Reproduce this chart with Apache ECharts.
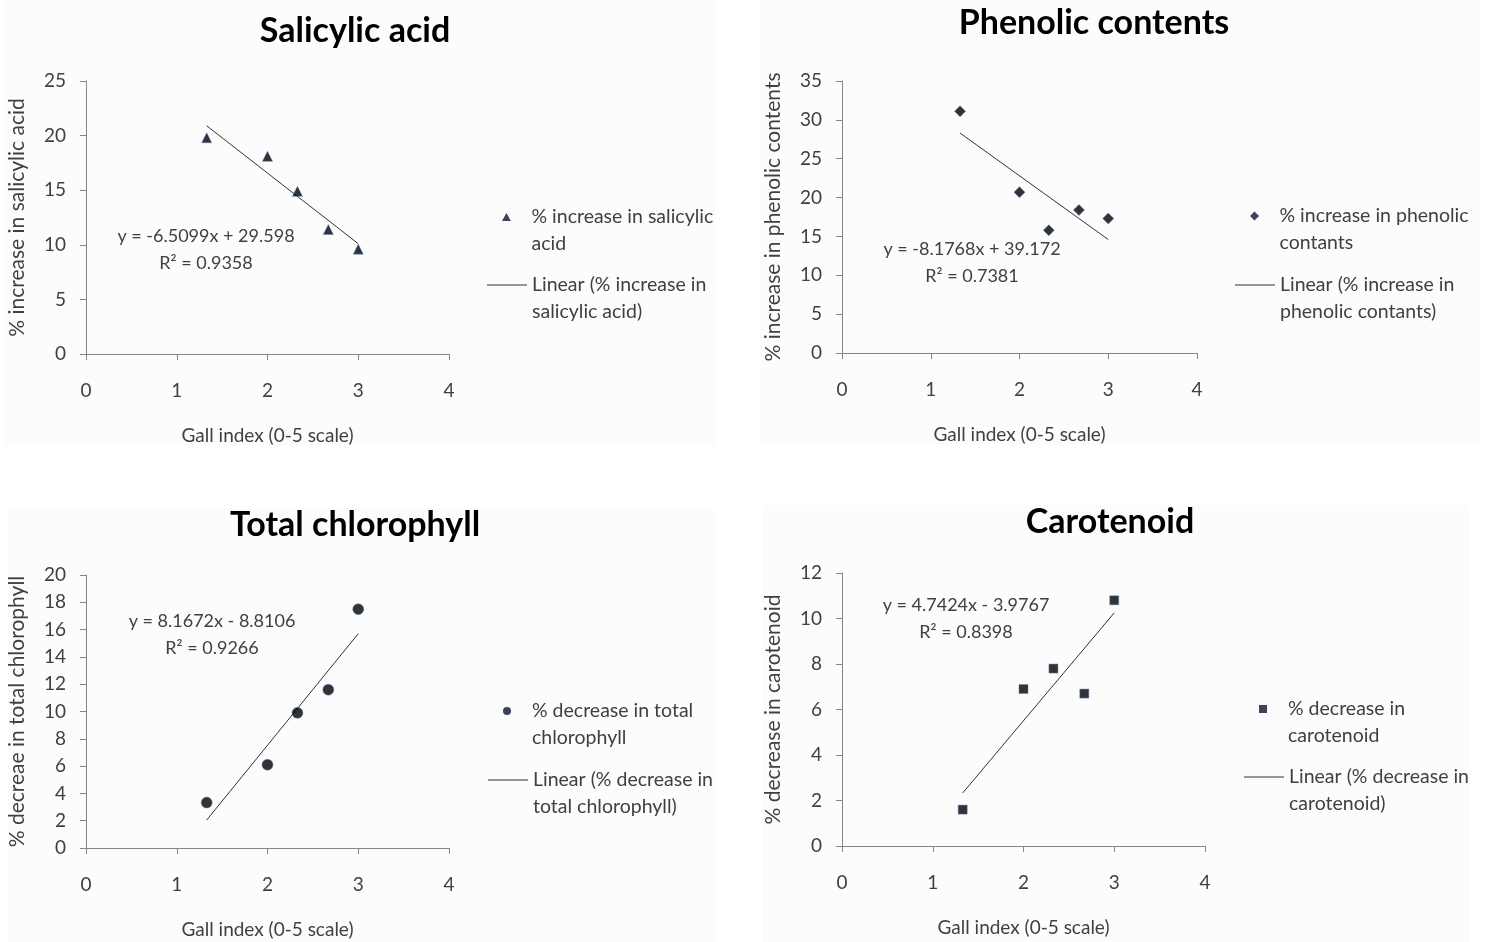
<!DOCTYPE html>
<html><head><meta charset="utf-8">
<script src="https://cdn.jsdelivr.net/npm/echarts@6/dist/echarts.min.js"></script>
<style>html,body{margin:0;padding:0;background:#fff}#c{width:1485px;height:942px}</style>
</head><body><div id="c"></div>
<script>
// ---- data ----
const gallIndex = [1.33, 2, 2.33, 2.67, 3];
const salicylic = [19.8, 18.1, 14.9, 11.4, 9.6];
const phenolic = [31.1, 20.7, 15.8, 18.4, 17.3];
const chlorophyll = [3.33, 6.1, 9.9, 11.6, 17.5];
const carotenoid = [1.6, 6.9, 7.8, 6.7, 10.8];
const trendX = [1.33, 3];
const trendSalicylic = [20.9, 10.1];
const trendPhenolic = [28.3, 14.6];
const trendChlorophyll = [2.05, 15.7];
const trendCarotenoid = [2.33, 10.25];
const titles = ['Salicylic acid', 'Phenolic contents', 'Total chlorophyll', 'Carotenoid'];
const yNames = ['% increase in salicylic acid', '% increase in phenolic contents', '% decreae in total chlorophyll', '% decrease in carotenoid'];
const xName = 'Gall index (0-5 scale)';
const equations = ['y = -6.5099x + 29.598', 'y = -8.1768x + 39.172', 'y = 8.1672x - 8.8106', 'y = 4.7424x - 3.9767'];
const rSquared = ['R\u00B2 = 0.9358', 'R\u00B2 = 0.7381', 'R\u00B2 = 0.9266', 'R\u00B2 = 0.8398'];
const scatterNames = ['% increase in salicylic acid', '% increase in phenolic contants', '% decrease in total chlorophyll', '% decrease in carotenoid'];
const scatterLabels = ['% increase in salicylic\nacid', '% increase in phenolic\ncontants', '% decrease in total\nchlorophyll', '% decrease in\ncarotenoid'];
const trendNames = ['Linear (% increase in salicylic acid)', 'Linear (% increase in phenolic contants)', 'Linear (% decrease in total chlorophyll)', 'Linear (% decrease in carotenoid)'];
const trendLabels = ['Linear (% increase in\nsalicylic acid)', 'Linear (% increase in\nphenolic contants)', 'Linear (% decrease in\ntotal chlorophyll)', 'Linear (% decrease in\ncarotenoid)'];
const yMax = [25, 35, 20, 12];
const yStep = [5, 5, 2, 2];
const xMin = 0, xMax = 4, xStep = 1;

// ---- layout ----
const FONT = 'Lato, "Open Sans", sans-serif';
const TXT = '#404040';
const AX = '#868686';
const grids = [
  {left: 86, top: 81, width: 363, height: 273},
  {left: 842, top: 81, width: 355, height: 272},
  {left: 86, top: 575, width: 363, height: 273},
  {left: 842, top: 573, width: 363, height: 273}
];
const titlePos = [[355, 14], [1094, 6], [355, 508], [1110, 505]];
const eqPos = [[206, 236], [972, 249], [212, 621], [966, 605]];
const legPos = [[487, 217, 285], [1235, 216, 285], [488, 711, 780], [1244, 709, 777]];
const symbols = ['triangle', 'diamond', 'circle', 'rect'];
const legendIcons = [
  'path://M5,0L10,9L0,9Z',
  'path://M5,0L10,5L5,10L0,5Z',
  'path://M5,0A5,5,0,1,1,5,10A5,5,0,1,1,5,0Z',
  'path://M0,0L9,0L9,9L0,9Z'
];
const legendIconSize = [8, 9, 8, 8];
const symSizes = [10, 11, 11, 9];
const series = [salicylic, phenolic, chlorophyll, carotenoid];
const trends = [trendSalicylic, trendPhenolic, trendChlorophyll, trendCarotenoid];

const option = {
  backgroundColor: '#ffffff',
  animation: false,
  textStyle: {fontFamily: FONT},
  title: titles.map((t, i) => ({
    text: t, left: titlePos[i][0], top: titlePos[i][1], textAlign: 'center', padding: 0,
    textStyle: {fontFamily: FONT, fontWeight: 'bold', fontSize: 34, color: '#000'}
  })),
  grid: grids.map(g => Object.assign({containLabel: false}, g)),
  xAxis: grids.map((g, i) => ({
    type: 'value', gridIndex: i, min: xMin, max: xMax, interval: xStep,
    name: xName, nameLocation: 'middle', nameGap: 72,
    nameTextStyle: {fontFamily: FONT, fontSize: 19, color: TXT},
    axisLine: {show: true, onZero: false, lineStyle: {color: AX, width: 1}},
    axisTick: {show: true, length: 6, lineStyle: {color: AX}},
    splitLine: {show: false},
    axisLabel: {fontFamily: FONT, fontSize: 19, color: TXT, margin: 27}
  })),
  yAxis: grids.map((g, i) => ({
    type: 'value', gridIndex: i, min: 0, max: yMax[i], interval: yStep[i],
    name: yNames[i], nameLocation: 'middle', nameGap: 58, nameRotate: 90,
    nameTextStyle: {fontFamily: FONT, fontSize: 21, color: TXT},
    axisLine: {show: true, lineStyle: {color: AX, width: 1}},
    axisTick: {show: true, length: 6, lineStyle: {color: AX}},
    splitLine: {show: false},
    axisLabel: {fontFamily: FONT, fontSize: 19, color: TXT, margin: 20}
  })),
  legend: [],
  series: [],
  graphic: []
};

const bgRects = [[5, 0, 710, 445], [760, 0, 720, 445], [7, 508, 708, 434], [762, 505, 708, 437]];
bgRects.forEach(r => option.graphic.push({type: 'rect', z: -10, shape: {x: r[0], y: r[1], width: r[2], height: r[3]}, style: {fill: '#fcfcfc'}, silent: true}));

for (let i = 0; i < 4; i++) {
  option.series.push({
    type: 'scatter', name: scatterNames[i], xAxisIndex: i, yAxisIndex: i,
    symbol: symbols[i], symbolSize: symSizes[i],
    itemStyle: {color: '#000000', borderColor: '#4f7fc0', borderWidth: 0.6},
    data: gallIndex.map((x, k) => [x, series[i][k]]), z: 3
  });
  option.series.push({
    type: 'line', name: trendNames[i], xAxisIndex: i, yAxisIndex: i,
    symbol: 'none', lineStyle: {color: '#333333', width: 1}, itemStyle: {color: '#333333'},
    data: trendX.map((x, k) => [x, trends[i][k]]), z: 2
  });
  const lt = {fontFamily: FONT, fontSize: 19.5, color: TXT, lineHeight: 27};
  const sLab = scatterLabels[i], tLab = trendLabels[i];
  option.legend.push({
    data: [{name: scatterNames[i], icon: legendIcons[i]}], orient: 'vertical', left: legPos[i][0] + 15, top: legPos[i][1] - 40.5,
    padding: 0, itemWidth: 40, itemHeight: legendIconSize[i], symbolKeepAspect: true, selectedMode: false, textStyle: lt,
    itemStyle: {color: '#0a1430', borderWidth: 0},
    formatter: () => '\n' + sLab
  });
  option.legend.push({
    data: [{name: trendNames[i], icon: 'rect'}], orient: 'vertical', left: legPos[i][0], top: legPos[i][2] - 40.5,
    padding: 0, itemWidth: 40, itemHeight: 1, selectedMode: false, textStyle: lt,
    formatter: () => '\n' + tLab
  });
  option.graphic.push({type: 'text', x: eqPos[i][0], y: eqPos[i][1], style: {text: equations[i], fontFamily: FONT, fontSize: 18, fill: TXT, align: 'center', verticalAlign: 'middle'}});
  option.graphic.push({type: 'text', x: eqPos[i][0], y: eqPos[i][1] + 27, style: {text: rSquared[i], fontFamily: FONT, fontSize: 18, fill: TXT, align: 'center', verticalAlign: 'middle'}});
}

const chart = echarts.init(document.getElementById('c'), null, {renderer: 'canvas'});
chart.setOption(option);
</script>
</body></html>
